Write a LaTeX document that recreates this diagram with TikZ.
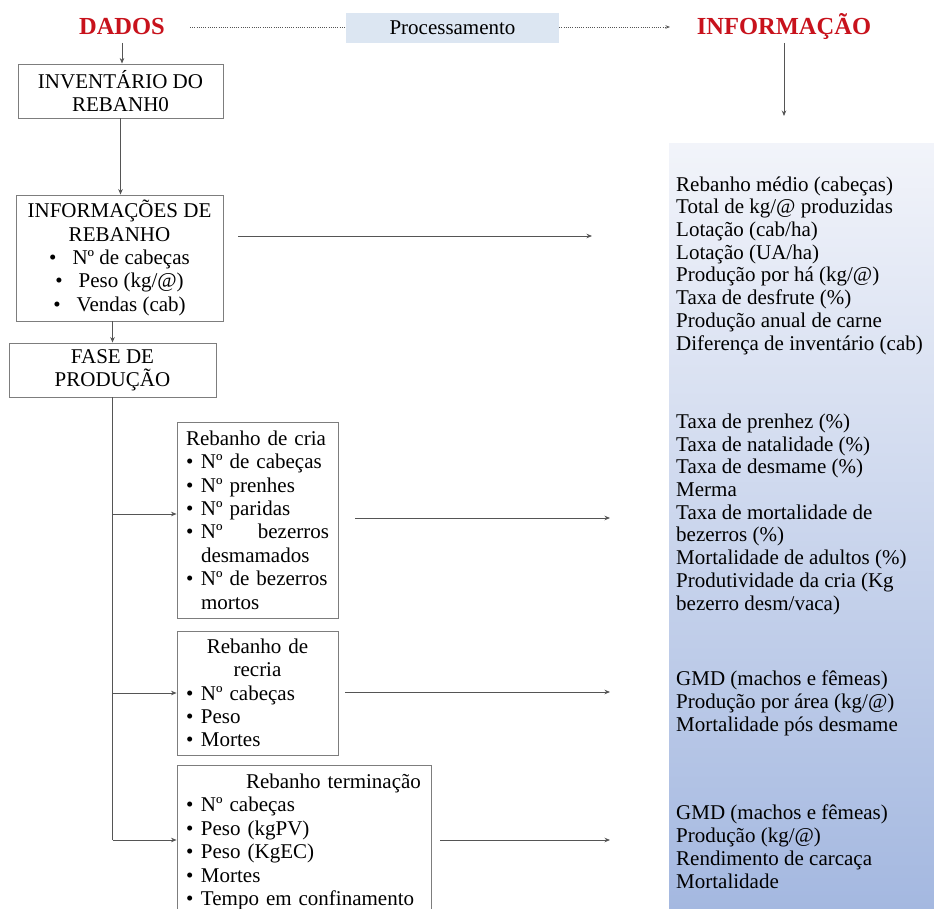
\documentclass[tikz,border=0pt]{standalone}
\usepackage{fontspec}
\setmainfont{Liberation Serif}
\usetikzlibrary{arrows.meta}
\definecolor{hdred}{RGB}{200,18,28}
\definecolor{procfill}{RGB}{220,230,242}
\definecolor{paneltop}{RGB}{242,244,250}
\definecolor{panelbot}{RGB}{164,184,224}
\definecolor{linegray}{RGB}{85,85,85}
\definecolor{boxgray}{RGB}{125,125,125}
\newcommand\bitem{\makebox[15pt][l]{\textbullet}}
\newcommand\bind{\hspace*{15pt}}
\begin{document}
\begin{tikzpicture}[x=1pt,y=-1pt,
  body/.style={font=\fontsize{21}{23.4}\selectfont},
  boxnode/.style={draw=boxgray, line width=0.9pt, body, inner xsep=9pt, inner ysep=2pt},
  heading/.style={font=\fontsize{24.5}{28}\selectfont\bfseries, text=hdred, inner sep=0pt},
  arr/.style={draw=linegray, line width=0.8pt, -{Stealth[length=5.5pt,width=4.5pt]}},
  plainline/.style={draw=linegray, line width=0.8pt},
  dotline/.style={draw=linegray, line width=0.7pt, dash pattern=on 1pt off 1.2pt},
  paneltext/.style={font=\fontsize{21}{22.7}\selectfont, align=left, inner sep=0pt, anchor=base west},
]
\useasboundingbox (0,0) rectangle (934,909);
\clip (0,0) rectangle (934,909);
\fill[white] (0,0) rectangle (934,909);

% right information panel
\node[inner sep=0pt, minimum width=265pt, minimum height=766pt, anchor=north west,
      top color=paneltop, bottom color=panelbot] (panel) at (669,143) {};

% headings
\node[heading, anchor=base] (dados) at (122,35) {DADOS};
\node[heading, anchor=base] (informacao) at (784,35) {INFORMAÇÃO};
\node[body, fill=procfill, minimum width=213pt, minimum height=30pt, inner sep=0pt] (proc) at (452.5,28) {Processamento};

% left boxes
\node[boxnode, minimum width=205pt, minimum height=54pt, align=center] (inv) at (120.5,91) {INVENTÁRIO DO\\REBANH0};
\node[boxnode, minimum width=207pt, minimum height=126pt, align=center] (infor) at (119.5,258)
  {INFORMAÇÕES DE\\REBANHO\\\textbullet\hspace{16pt}Nº de cabeças\\\textbullet\hspace{16pt}Peso (kg/@)\\\textbullet\hspace{16pt}Vendas (cab)};
\node[boxnode, minimum width=207pt, minimum height=54pt, align=center] (fase) at (112.5,370) {FASE DE\\PRODUÇÃO};

\node[boxnode, text width=143pt, minimum height=196pt, align=left] (cria) at (257.5,520)
  {Rebanho de cria\\
   \bitem Nº de cabeças\\
   \bitem Nº prenhes\\
   \bitem Nº paridas\\
   \bitem\makebox[128pt][l]{Nº\hfill bezerros}\\
   \bind desmamados\\
   \bitem Nº de bezerros\\
   \bind mortos};
\node[boxnode, text width=143pt, minimum height=124pt, align=left] (recria) at (257.5,693)
  {\makebox[143pt]{Rebanho de}\\
   \makebox[143pt]{recria}\\
   \bitem Nº cabeças\\
   \bitem Peso\\
   \bitem Mortes};
\node[boxnode, text width=236pt, minimum height=154pt, align=left] (term) at (304,842)
  {\hspace*{60pt}Rebanho terminação\\
   \bitem Nº cabeças\\
   \bitem Peso (kgPV)\\
   \bitem Peso (KgEC)\\
   \bitem Mortes\\
   \bitem Tempo em confinamento};

% panel texts (base = baseline of the last line)
\node[paneltext] (g1) at (676,350) {Rebanho médio (cabeças)\\Total de kg/@ produzidas\\Lotação (cab/ha)\\Lotação (UA/ha)\\Produção por há (kg/@)\\Taxa de desfrute (\%)\\Produção anual de carne\\Diferença de inventário (cab)};
\node[paneltext] (g2) at (676,610) {Taxa de prenhez (\%)\\Taxa de natalidade (\%)\\Taxa de desmame (\%)\\Merma\\Taxa de mortalidade de\\bezerros (\%)\\Mortalidade de adultos (\%)\\Produtividade da cria (Kg\\bezerro desm/vaca)};
\node[paneltext] (g3) at (676,731) {GMD (machos e fêmeas)\\Produção por área (kg/@)\\Mortalidade pós desmame};
\node[paneltext] (g4) at (676,888) {GMD (machos e fêmeas)\\Produção (kg/@)\\Rendimento de carcaça\\Mortalidade};

% top connectors
\coordinate (d1) at (190,27);
\draw[dotline] (d1) -- (d1 -| proc.west);
\coordinate (d2) at (670,27);
\draw[dotline, -{Stealth[length=4.5pt,width=3.5pt]}] (proc.east |- d2) -- (d2);
\coordinate (dadosdown) at (122,43);
\draw[arr] (dadosdown) -- (dadosdown |- inv.north);
\coordinate (infdown) at (784,43);
\coordinate (infend) at (784,116);
\draw[arr] (infdown) -- (infend);

% left chain
\draw[arr] (inv.south) -- (inv.south |- infor.north);
\draw[arr] (fase.north |- infor.south) -- (fase.north);
\coordinate (vend) at (112.5,840);
\draw[plainline] (fase.south) -- (vend);
\coordinate (b1) at (112.5,514);
\draw[arr] (b1) -- (b1 -| cria.west);
\coordinate (b2) at (112.5,693);
\draw[arr] (b2) -- (b2 -| recria.west);
\draw[arr] (vend) -- (vend -| term.west);

% right arrows
\coordinate (r0s) at (238,236); \coordinate (r0e) at (592,236);
\draw[arr] (r0s) -- (r0e);
\coordinate (r1s) at (355,518); \coordinate (r1e) at (610,518);
\draw[arr] (r1s) -- (r1e);
\coordinate (r2s) at (345,692); \coordinate (r2e) at (610,692);
\draw[arr] (r2s) -- (r2e);
\coordinate (r3s) at (440,840); \coordinate (r3e) at (610,840);
\draw[arr] (r3s) -- (r3e);
\end{tikzpicture}
\end{document}
